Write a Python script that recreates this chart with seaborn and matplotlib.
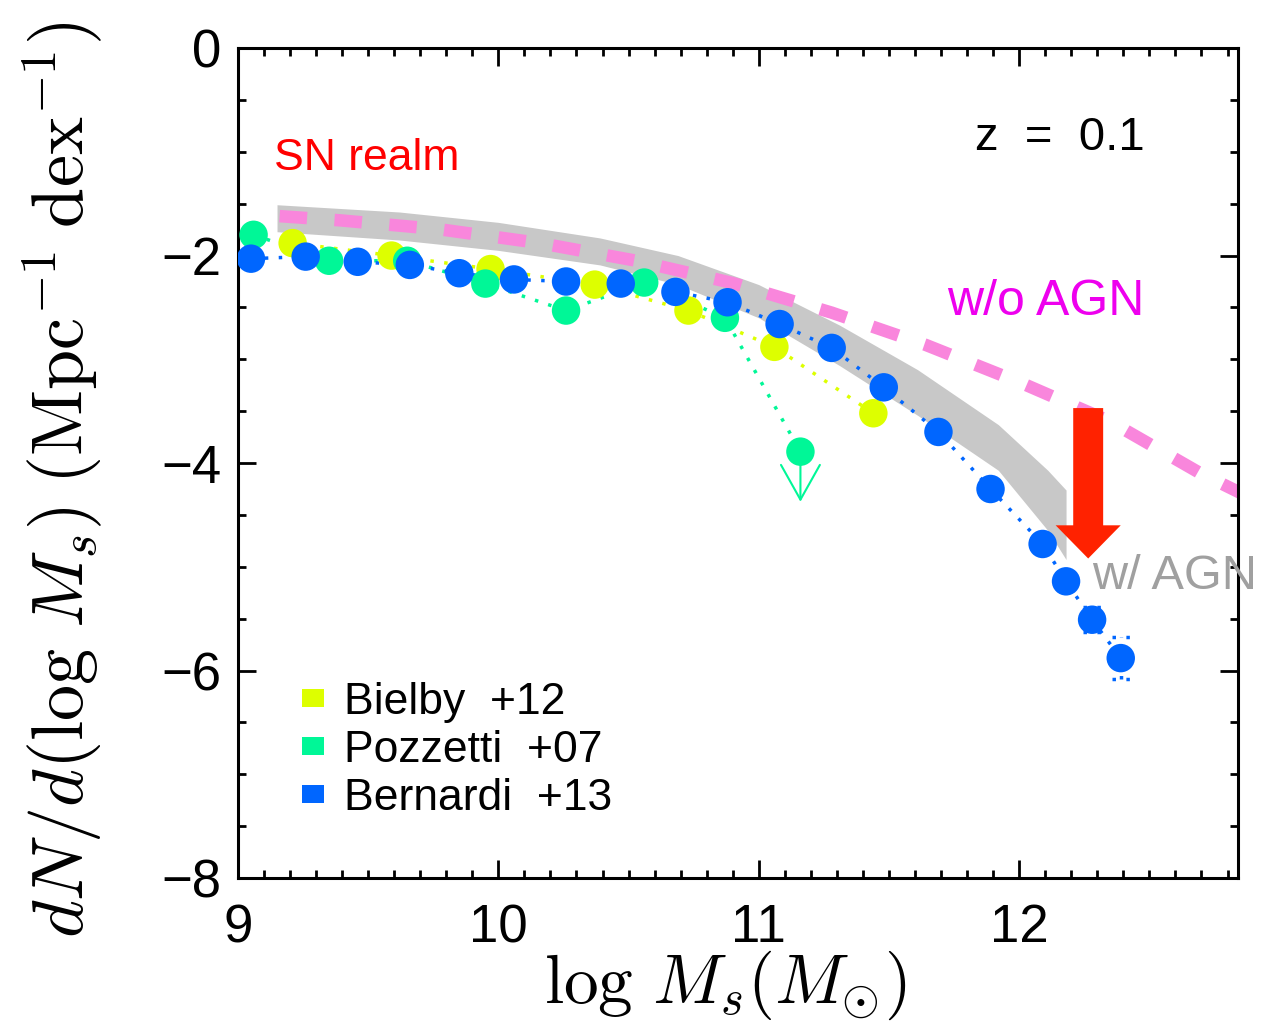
import numpy as np
import pandas as pd
import matplotlib
matplotlib.use('Agg')
from matplotlib import pyplot as plt
from matplotlib.patches import Patch
from matplotlib.ticker import MultipleLocator
import seaborn as sns

# dados
bielby_x = [9.21, 9.59, 9.97, 10.37, 10.73, 11.06, 11.44]
bielby_y = [-1.88, -2.00, -2.13, -2.28, -2.53, -2.88, -3.52]

pozzetti_x = [9.06, 9.35, 9.65, 9.95, 10.26, 10.56, 10.87, 11.16]
pozzetti_y = [-1.80, -2.05, -2.05, -2.27, -2.53, -2.26, -2.60, -3.89]

bernardi_x = [9.05, 9.26, 9.46, 9.66, 9.85, 10.06, 10.26, 10.47, 10.68, 10.88,
              11.08, 11.28, 11.48, 11.69, 11.89, 12.09, 12.18, 12.28, 12.39]
bernardi_y = [-2.03, -2.01, -2.06, -2.09, -2.17, -2.23, -2.25, -2.27, -2.35, -2.45,
              -2.66, -2.89, -3.27, -3.70, -4.25, -4.78, -5.14, -5.51, -5.88]
bernardi_err = [0, 0, 0, 0, 0, 0, 0, 0, 0, 0,
                0, 0, 0, 0, 0, 0, 0.08, 0.12, 0.2]

# modelo com AGN (faixa cinza)
agn_x = [9.15, 9.62, 10.0, 10.39, 10.69, 11.0, 11.31, 11.61, 11.92, 12.11, 12.18]
agn_hi = [-1.51, -1.58, -1.68, -1.83, -2.00, -2.28, -2.67, -3.10, -3.63, -4.07, -4.26]
agn_lo = [-1.77, -1.85, -1.95, -2.09, -2.28, -2.60, -3.06, -3.54, -4.07, -4.65, -4.93]

# modelo sem AGN (linha rosa tracejada)
noagn_x = [9.16, 9.39, 9.77, 10.16, 10.53, 10.90, 11.28, 11.64, 12.01, 12.35, 12.69, 12.9]
noagn_y = [-1.62, -1.66, -1.745, -1.88, -2.05, -2.265, -2.55, -2.86, -3.23, -3.60, -4.09, -4.35]

series = ['Bielby  +12', 'Pozzetti  +07', 'Bernardi  +13']
cores = {'Bielby  +12': '#ddff00', 'Pozzetti  +07': '#00f797', 'Bernardi  +13': '#0066ff'}

df = pd.concat([
    pd.DataFrame({'x': bielby_x, 'y': bielby_y, 'obs': series[0]}),
    pd.DataFrame({'x': pozzetti_x, 'y': pozzetti_y, 'obs': series[1]}),
    pd.DataFrame({'x': bernardi_x, 'y': bernardi_y, 'obs': series[2]}),
], ignore_index=True)

sns.set_theme(style='ticks')
plt.rcParams['mathtext.fontset'] = 'cm'
plt.rcParams['font.family'] = ['Liberation Sans Narrow', 'Liberation Sans', 'DejaVu Sans']
plt.rcParams['text.color'] = 'black'
plt.rcParams['xtick.color'] = 'black'
plt.rcParams['ytick.color'] = 'black'
plt.rcParams['xtick.labelcolor'] = 'black'
plt.rcParams['ytick.labelcolor'] = 'black'

fig = plt.figure(figsize=(12.61, 10.23), dpi=100)
ax = fig.add_axes([0.1887, 0.1417, 0.793, 0.8113])

# faixa cinza e linha rosa
ax.fill_between(agn_x, agn_lo, agn_hi, color='#c8c8c8', lw=0, zorder=1)
sns.lineplot(x=noagn_x, y=noagn_y, ax=ax, color='#f986dc', lw=9, sort=False,
             dashes=False, zorder=2)
ax.lines[-1].set_dashes((2.2, 2.2))

# linhas pontilhadas e pontos
for i, s in enumerate(series):
    d = df[df['obs'] == s]
    sns.lineplot(data=d, x='x', y='y', ax=ax, color=cores[s], lw=2.5, sort=False,
                 zorder=3 + i)
    ax.lines[-1].set_linestyle((0, (1, 3)))
    sns.scatterplot(data=d, x='x', y='y', ax=ax, color=cores[s], s=420,
                    edgecolor='none', zorder=6 + i, legend=False)

# barras de erro pontilhadas
bx = np.array(bernardi_x)
by = np.array(bernardi_y)
be = np.array(bernardi_err)
m = be > 0
ax.vlines(bx[m], by[m] - be[m], by[m] + be[m], color=cores[series[2]], lw=2.5,
          linestyles=(0, (1, 3)), zorder=5)
ax.hlines(np.r_[by[m] - be[m], by[m] + be[m]], np.r_[bx[m], bx[m]] - 0.035,
          np.r_[bx[m], bx[m]] + 0.035, color=cores[series[2]], lw=2.5,
          linestyles=(0, (1, 3)), zorder=5)

# limite superior Pozzetti
ax.annotate('', xy=(pozzetti_x[-1], -4.40), xytext=(pozzetti_x[-1], -3.95),
            arrowprops=dict(arrowstyle='->, head_length=25, head_width=14',
                            mutation_scale=1, color=cores[series[1]], lw=1.5),
            zorder=7)

# seta vermelha
ax.arrow(12.265, -3.47, 0, -1.13, width=0.115, head_width=0.25, head_length=0.32,
         length_includes_head=False, color='#ff2200', lw=0, zorder=10)

ax.text(9.14, -1.06, 'SN realm', color='#ff0000', fontsize=32,
        family='Liberation Sans', va='center', ha='left')
ax.text(11.725, -2.45, 'w/o AGN', color='#ee00ee', fontsize=36,
        family='Liberation Sans', va='center', ha='left')
ax.text(12.28, -5.09, 'w/ AGN', color='#a0a0a0', fontsize=35,
        family='Liberation Sans', va='center', ha='left', zorder=11)
ax.text(12.48, -0.87, 'z  =  0.1', color='black', fontsize=34, va='center', ha='right')

ax.set_xlim(9, 12.84)
ax.set_ylim(-8, 0)
ax.set_xticks([9, 10, 11, 12])
ax.set_yticks([0, -2, -4, -6, -8])
ax.xaxis.set_minor_locator(MultipleLocator(0.1))
ax.yaxis.set_minor_locator(MultipleLocator(0.5))
ax.tick_params(which='both', direction='in', top=True, right=True, width=2, color='black')
ax.tick_params(which='major', length=13, labelsize=38)
ax.tick_params(which='minor', length=6)
ax.tick_params(axis='x', pad=18)
ax.tick_params(axis='y', pad=12)
for sp in ax.spines.values():
    sp.set_linewidth(2.2)
    sp.set_color('black')
ax.set_xlabel('')
ax.set_ylabel('')

handles = [Patch(facecolor=cores[s], edgecolor='none') for s in series]
ax.legend(handles, series, loc='upper left', bbox_to_anchor=(0.042, 0.263),
          frameon=False, handlelength=0.5, handleheight=0.25,
          handletextpad=0.45, labelspacing=0.16, borderpad=0,
          prop={'family': 'Liberation Sans', 'size': 32})

fig.text(725 / 1261, 1 - 985 / 1023, r'$\log\,M_s(M_{\odot})$', fontsize=50,
         ha='center', va='center')
fig.text(63 / 1261, 1 - 480 / 1023,
         r'$dN/d(\log\,M_s)\;(\mathrm{Mpc}^{-1}\;\mathrm{dex}^{-1})$',
         fontsize=52, rotation=90, ha='center', va='center')

fig.savefig('out.png', dpi=100)
